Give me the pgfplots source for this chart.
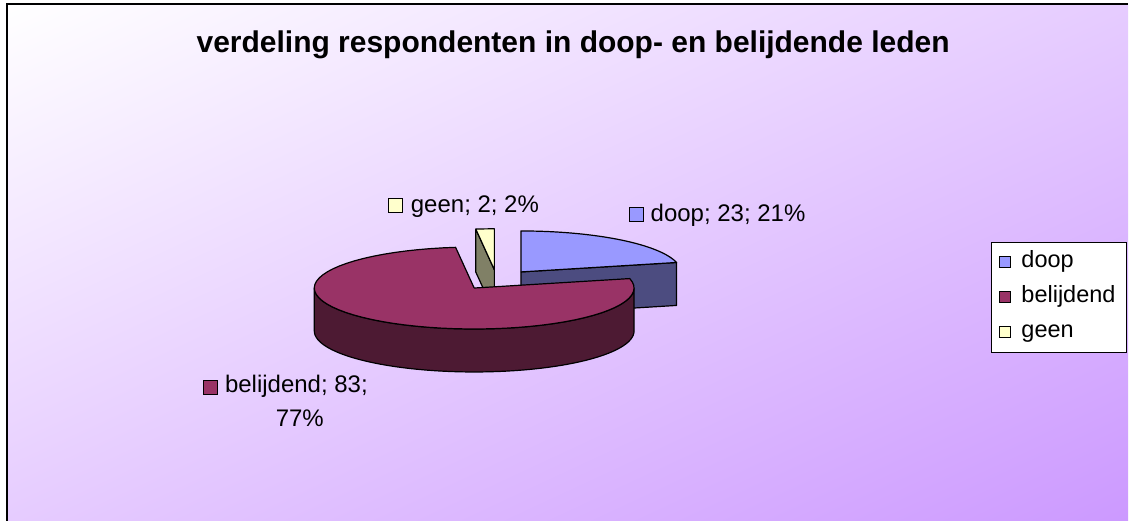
\documentclass[border=0pt]{standalone}
\usepackage{pgfplots}
\pgfplotsset{compat=1.18}
\usepackage{pgfplotstable}
\usetikzlibrary{shadings}
\usepackage{fontspec}
\setmainfont{Liberation Sans}
\definecolor{doopTop}{HTML}{9999FF}
\definecolor{doopSide}{HTML}{4C4C80}
\definecolor{belTop}{HTML}{993366}
\definecolor{belSide}{HTML}{4D1A33}
\definecolor{geenTop}{HTML}{FFFFCC}
\definecolor{geenSide}{HTML}{808066}
\definecolor{bgEnd}{HTML}{CC99FF}
\definecolor{bgMid}{HTML}{E6CCFF}
\newcommand\lab{\fontsize{24}{28}\selectfont}
\newcommand\leg{\fontsize{23.5}{27}\selectfont}
\newcommand\ttl{\fontsize{30}{35}\selectfont\bfseries}

\pgfplotstableread{
label value
doop 23
belijdend 83
geen 2
}\piedata

% geometry (pixel units)
\def\rx{160}\def\ry{41}\def\dep{43}
\pgfplotsset{pieline/.style={draw=black, line width=1.2pt, line join=round}}

% top face of a slice: apex (#1,#2), from angle #3 to #4, colour #5
\newcommand\pietop[5]{%
 \addplot[pieline, fill=#5, domain=-1:61, samples=63, variable=\t]
  ({#1+((\t<-0.5 || \t>60.5) ? 0 : \rx*sin(#3+(#4-#3)*\t/60))},
   {#2-((\t<-0.5 || \t>60.5) ? 0 : \ry*cos(#3+(#4-#3)*\t/60))});
}
% radial cut face at angle #3
\newcommand\pieradial[4]{%
 \addplot[pieline, fill=#4, domain=0:4, samples=5, variable=\t]
  ({#1+((\t>0.5 && \t<2.5) ? \rx*sin(#3) : 0)},
   {#2-((\t>0.5 && \t<2.5) ? \ry*cos(#3) : 0)+((\t>1.5 && \t<3.5) ? \dep : 0)});
}
% curved outer side from angle #3 to #4
\newcommand\pieside[5]{%
 \def\angexpr{((\t<60.5) ? (#3+(#4-#3)*\t/60) : ((\t<121.5) ? (#4-(#4-#3)*(\t-61)/60) : #3))}%
 \addplot[pieline, fill=#5, domain=0:122, samples=123, variable=\t]
  ({#1+\rx*sin(\angexpr)},
   {#2-\ry*cos(\angexpr)+((\t>60.5 && \t<121.5) ? \dep : 0)});
}

\begin{document}
\begin{tikzpicture}
\pgfplotstablegetelem{0}{value}\of\piedata \let\vA\pgfplotsretval
\pgfplotstablegetelem{1}{value}\of\piedata \let\vB\pgfplotsretval
\pgfplotstablegetelem{2}{value}\of\piedata \let\vC\pgfplotsretval
\pgfmathsetmacro\tot{\vA+\vB+\vC}
\pgfmathsetmacro\aA{360*(\vA/\tot)}
\pgfmathsetmacro\aB{\aA+360*(\vB/\tot)}
\def\cx{497}\def\cy{280}\def\ex{0.245}
\pgfmathsetmacro\mA{\aA/2}
\pgfmathsetmacro\mB{(\aA+\aB)/2}
\pgfmathsetmacro\mC{(\aB+360)/2}
\pgfmathsetmacro\xA{\cx+\ex*\rx*sin(\mA)}\pgfmathsetmacro\yA{\cy-\ex*\ry*cos(\mA)}
\pgfmathsetmacro\xB{\cx+\ex*\rx*sin(\mB)}\pgfmathsetmacro\yB{\cy-\ex*\ry*cos(\mB)}
\pgfmathsetmacro\xC{\cx+\ex*\rx*sin(\mC)}\pgfmathsetmacro\yC{\cy-\ex*\ry*cos(\mC)}
\begin{axis}[
  width=1129pt, height=521pt, scale only axis,
  xmin=0, xmax=1129, ymin=0, ymax=521, y dir=reverse,
  hide axis, clip=false]
 % page extent
 \path (axis cs:0,0) rectangle (axis cs:1129,521);
 % background
 \shade[upper left=white, upper right=bgMid, lower left=bgMid, lower right=bgEnd]
   (axis cs:7,4) rectangle (axis cs:1129,521);
 \draw[black, line width=1.6pt] (axis cs:7,521) -- (axis cs:7,4) -- (axis cs:1129,4);
 % title
 \node[anchor=base, font=\ttl] at (axis cs:573.5,53) {verdeling respondenten in doop- en belijdende leden};
 % geen
 \pieradial{\xC}{\yC}{\aB}{geenSide}
 \pietop{\xC}{\yC}{\aB}{360}{geenTop}
 % doop
 \pieradial{\xA}{\yA}{\aA}{doopSide}
 \pietop{\xA}{\yA}{0}{\aA}{doopTop}
 % belijdend
 \pieside{\xB}{\yB}{90}{270}{belSide}
 \pietop{\xB}{\yB}{\aA}{\aB}{belTop}
 % data labels
 \node[draw=black, line width=1pt, fill=geenTop, minimum size=14pt, inner sep=0pt] at (axis cs:396,206) {};
 \node[anchor=base west, font=\lab, inner sep=0pt] at (axis cs:411,213) {geen; 2; 2\%};
 \node[draw=black, line width=1pt, fill=doopTop, minimum size=14pt, inner sep=0pt] at (axis cs:636.5,215) {};
 \node[anchor=base west, font=\lab, inner sep=0pt] at (axis cs:651,222) {doop; 23; 21\%};
 \node[draw=black, line width=1pt, fill=belTop, minimum size=14pt, inner sep=0pt] at (axis cs:210.5,388) {};
 \node[anchor=base west, font=\lab, inner sep=0pt] at (axis cs:225,393) {belijdend; 83;};
 \node[anchor=base, font=\lab, inner sep=0pt] at (axis cs:300,427) {77\%};
 % legend
 \draw[black, line width=1pt, fill=white] (axis cs:992,243) rectangle (axis cs:1127,353);
 \node[draw=black, line width=1pt, fill=doopTop, minimum size=11pt, inner sep=0pt] at (axis cs:1006,262) {};
 \node[anchor=base west, font=\leg, inner sep=0pt] at (axis cs:1022,268) {doop};
 \node[draw=black, line width=1pt, fill=belTop, minimum size=11pt, inner sep=0pt] at (axis cs:1006,297) {};
 \node[anchor=base west, font=\leg, inner sep=0pt] at (axis cs:1022,303) {belijdend};
 \node[draw=black, line width=1pt, fill=geenTop, minimum size=11pt, inner sep=0pt] at (axis cs:1006,332) {};
 \node[anchor=base west, font=\leg, inner sep=0pt] at (axis cs:1022,338) {geen};
\end{axis}
\end{tikzpicture}
\end{document}
